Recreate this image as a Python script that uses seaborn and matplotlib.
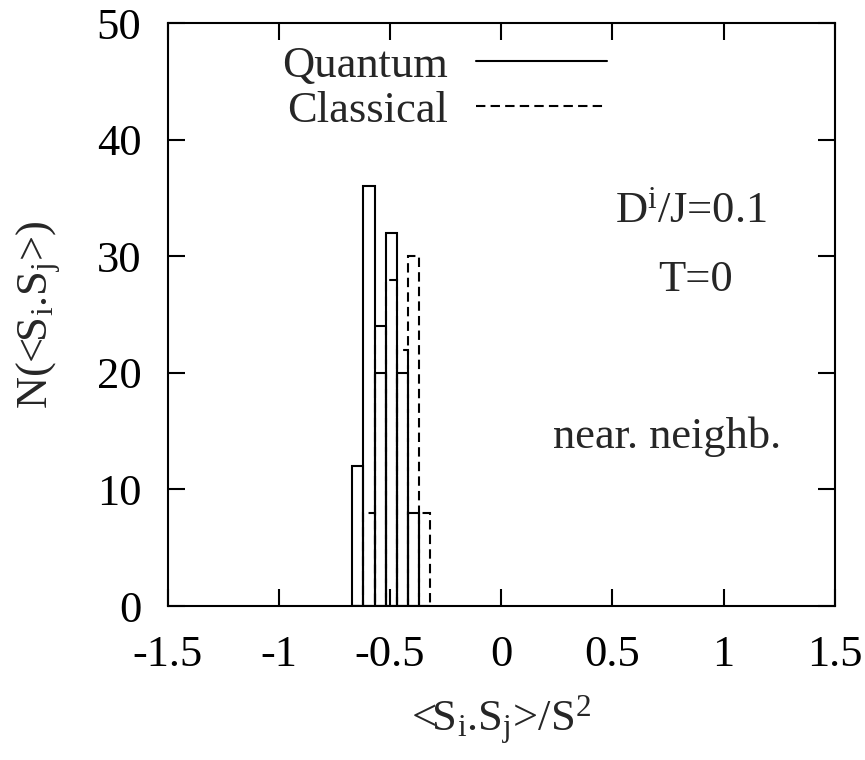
import matplotlib
matplotlib.use("Agg")
import matplotlib.pyplot as plt
from matplotlib.lines import Line2D
import seaborn as sns

# histogram data: bin centers and counts
quantum_x = [-0.645, -0.595, -0.545, -0.495, -0.445, -0.395]
quantum_n = [12, 36, 20, 32, 20, 8]
classical_x = [-0.595, -0.545, -0.495, -0.445, -0.395, -0.345]
classical_n = [8, 24, 28, 22, 30, 8]

xticks = [-1.5, -1, -0.5, 0, 0.5, 1, 1.5]
xticklabels = ["-1.5", "-1", "-0.5", "0", "0.5", "1", "1.5"]
yticks = [0, 10, 20, 30, 40, 50]

sns.set_style("ticks")
plt.rcParams["font.family"] = ["Liberation Serif", "DejaVu Serif"]
plt.rcParams["mathtext.fontset"] = "custom"
plt.rcParams["mathtext.rm"] = "Liberation Serif"
plt.rcParams["mathtext.it"] = "Liberation Serif:italic"

FS = 32
LW = 1.5
DASH = (0, (4.5, 2.5))

fig = plt.figure(figsize=(8.65, 7.6), dpi=100)
ax = fig.add_axes([0.194, 0.2026, 0.771, 0.7667])

sns.histplot(x=classical_x, weights=classical_n, binwidth=0.05, binrange=(-0.67, -0.32),
             fill=False, element="bars", color="black", linewidth=LW, linestyle=DASH, ax=ax)
sns.histplot(x=quantum_x, weights=quantum_n, binwidth=0.05, binrange=(-0.67, -0.32),
             fill=False, element="bars", color="black", linewidth=LW, ax=ax)

ax.set_xlim(-1.5, 1.5)
ax.set_ylim(0, 50)
ax.set_xticks(xticks)
ax.set_xticklabels(xticklabels)
ax.set_yticks(yticks)
ax.tick_params(direction="in", length=12.5, width=LW, labelsize=FS, top=True, right=True, colors="black")
ax.tick_params(axis="y", pad=19)
ax.tick_params(axis="x", pad=21)
for s in ax.spines.values():
    s.set_linewidth(LW)
    s.set_color("black")

ax.set_xlabel(r"<S$_{\rm i}$.S$_{\rm j}$>/S$^{2}$", fontsize=FS, labelpad=13)
ax.set_ylabel(r"N(<S$_{\rm i}$.S$_{\rm j}$>)", fontsize=FS, labelpad=24)

handles = [Line2D([], [], color="black", lw=LW),
           Line2D([], [], color="black", lw=LW, linestyle=DASH)]
ax.legend(handles, ["Quantum", "Classical"], loc="upper left", bbox_to_anchor=(0.171, 0.962),
          frameon=False, markerfirst=False, fontsize=FS, handlelength=2.95, handletextpad=0.63,
          labelspacing=0.12, borderpad=0, borderaxespad=0)

ax.text(0.784, 0.678, r"D$^{\rm i}$/J=0.1", transform=ax.transAxes, fontsize=FS, ha="center", va="center")
ax.text(0.792, 0.559, "T=0", transform=ax.transAxes, fontsize=FS, ha="center", va="center")
ax.text(0.749, 0.29, "near. neighb.", transform=ax.transAxes, fontsize=FS, ha="center", va="center")

fig.savefig("out.png", dpi=100)
